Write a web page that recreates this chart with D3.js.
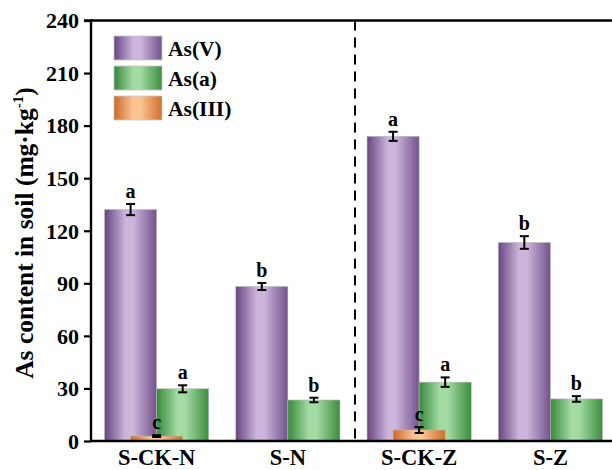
<!DOCTYPE html>
<html>
<head>
<meta charset="utf-8">
<script src="https://cdn.jsdelivr.net/npm/d3@7"></script>
<style>
  html, body { margin: 0; padding: 0; background: #fff; }
  svg { display: block; }
  text { font-family: "Liberation Serif", "Times New Roman", serif; font-weight: bold; fill: #000; }
</style>
</head>
<body>
<svg id="chart" width="612" height="470"></svg>
<script>
// Treatments and arsenic fractions in soil
const groups = ["S-CK-N", "S-N", "S-CK-Z", "S-Z"];
const seriesNames = ["As(V)", "As(a)", "As(III)"];

const asV      = [132.1, 88.2, 173.9, 113.3];
const asVErr   = [3.2, 2.0, 2.6, 3.6];
const asVSig   = ["a", "b", "a", "b"];

const asA      = [29.8, 23.4, 33.6, 24.0];
const asAErr   = [2.0, 1.3, 2.7, 1.6];
const asASig   = ["a", "b", "a", "b"];

// As(III) only measured in the control soils
const asIII    = [2.8, null, 6.3, null];
const asIIIErr = [0.5, null, 1.7, null];
const asIIISig = ["c", null, "c", null];

const yTicks = [0, 30, 60, 90, 120, 150, 180, 210, 240];

const palette = {
  "As(V)":   { edge: "#684482", mid: "#cbb5db", edge2: "#74528d" },
  "As(a)":   { edge: "#37883a", mid: "#a3dba3", edge2: "#3c8d3e" },
  "As(III)": { edge: "#cd6724", mid: "#fac594", edge2: "#d06f2b" }
};

const svg = d3.select("#chart");
const plotL = 91, plotT = 20.5, plotB = 441, plotR = 616;

const x0 = d3.scaleBand().domain(groups).range([plotL, plotR]).paddingInner(0).paddingOuter(0);
const x1 = d3.scaleBand().domain(["As(V)", "As(a)"]).range([0, x0.bandwidth()]).paddingInner(0).paddingOuter(0.26);
const y = d3.scaleLinear().domain([0, 240]).range([plotB, plotT]);

// horizontal shading gradients for the bars
const defs = svg.append("defs");
seriesNames.forEach((s, i) => {
  const g = defs.append("linearGradient").attr("id", "grad" + i)
    .attr("x1", "0%").attr("x2", "100%").attr("y1", "0%").attr("y2", "0%");
  g.append("stop").attr("offset", "0%").attr("stop-color", palette[s].edge);
  g.append("stop").attr("offset", "40%").attr("stop-color", palette[s].mid);
  g.append("stop").attr("offset", "55%").attr("stop-color", palette[s].mid);
  g.append("stop").attr("offset", "100%").attr("stop-color", palette[s].edge2);
});

// build flat records for each fraction
function rows(name, vals, errs, sigs) {
  return groups.map((g, i) => ({ group: g, series: name, value: vals[i], err: errs[i], sig: sigs[i] }))
    .filter(d => d.value != null);
}
const dataV = rows("As(V)", asV, asVErr, asVSig);
const dataA = rows("As(a)", asA, asAErr, asASig);
const dataIII = rows("As(III)", asIII, asIIIErr, asIIISig);

const bw = x1.bandwidth();
function barX(d) {
  if (d.series === "As(III)") return x0(d.group) + x0.bandwidth() / 2 - bw / 2;
  return x0(d.group) + x1(d.series);
}

const barsG = svg.append("g");
[dataV, dataA, dataIII].forEach((data, si) => {
  barsG.selectAll(null).data(data).enter().append("rect")
    .attr("x", d => barX(d))
    .attr("y", d => y(d.value))
    .attr("width", bw)
    .attr("height", d => y(0) - y(d.value))
    .attr("fill", "url(#grad" + si + ")")
    .attr("stroke", "#b9b9b9")
    .attr("stroke-width", 0.6);
});

// error bars and significance letters
const all = dataV.concat(dataA, dataIII);
const errG = svg.append("g").attr("stroke", "#000").attr("stroke-width", 2);
all.forEach(d => {
  const cx = barX(d) + bw / 2;
  const y1 = y(d.value + d.err), y2 = y(d.value - d.err);
  errG.append("line").attr("x1", cx).attr("x2", cx).attr("y1", y1).attr("y2", y2);
  errG.append("line").attr("x1", cx - 4.5).attr("x2", cx + 4.5).attr("y1", y1).attr("y2", y1);
  errG.append("line").attr("x1", cx - 4.5).attr("x2", cx + 4.5).attr("y1", y2).attr("y2", y2);
  svg.append("text").attr("x", cx).attr("y", y1 - 6)
    .attr("text-anchor", "middle").attr("font-size", 20).text(d.sig);
});

// dashed separator between the two soil sets
svg.append("line")
  .attr("x1", 355).attr("x2", 355).attr("y1", plotT).attr("y2", plotB)
  .attr("stroke", "#000").attr("stroke-width", 2).attr("stroke-dasharray", "10,7");

// frame
svg.append("line").attr("x1", plotL).attr("x2", plotR).attr("y1", plotT).attr("y2", plotT)
  .attr("stroke", "#000").attr("stroke-width", 2.4);
svg.append("line").attr("x1", plotR).attr("x2", plotR).attr("y1", plotT).attr("y2", plotB)
  .attr("stroke", "#000").attr("stroke-width", 2.4);

// y axis
const yAxis = svg.append("g").attr("transform", `translate(${plotL},0)`)
  .call(d3.axisLeft(y).tickValues(yTicks).tickSize(7).tickPadding(5));
yAxis.select(".domain").attr("stroke-width", 2.4).attr("d", `M-7,${plotT}H0V${plotB}`);
yAxis.selectAll(".tick line").attr("stroke-width", 2.2);
yAxis.selectAll(".tick text").attr("font-size", 22).attr("font-family", "Liberation Serif").attr("font-weight", "bold").attr("dy", "0.33em");

// x axis
const xAxis = svg.append("g").attr("transform", `translate(0,${plotB})`)
  .call(d3.axisBottom(x0).tickSize(0).tickPadding(8.5));
xAxis.select(".domain").attr("stroke-width", 2.4).attr("d", `M${plotL},0H${plotR}`);
xAxis.selectAll(".tick text").attr("font-size", 22.5).attr("font-family", "Liberation Serif").attr("font-weight", "bold");

// y axis title
const yt = svg.append("text")
  .attr("transform", "translate(33,233) rotate(-90)")
  .attr("text-anchor", "middle").attr("font-size", 25.5);
yt.append("tspan").text("As content in soil (mg·kg");
yt.append("tspan").attr("font-size", 15).attr("dy", -10).text("-1");
yt.append("tspan").attr("dy", 10).text(")");

// legend
const legend = svg.append("g").attr("transform", "translate(114,36)");
seriesNames.forEach((s, i) => {
  const row = legend.append("g").attr("transform", `translate(0,${i * 30})`);
  row.append("rect").attr("width", 48).attr("height", 24)
    .attr("fill", "url(#grad" + i + ")").attr("stroke", "#c8c8c8").attr("stroke-width", 0.8);
  row.append("text").attr("x", 54).attr("y", 12).attr("dy", "0.35em")
    .attr("font-size", 21.5).text(s);
});
</script>
</body>
</html>
